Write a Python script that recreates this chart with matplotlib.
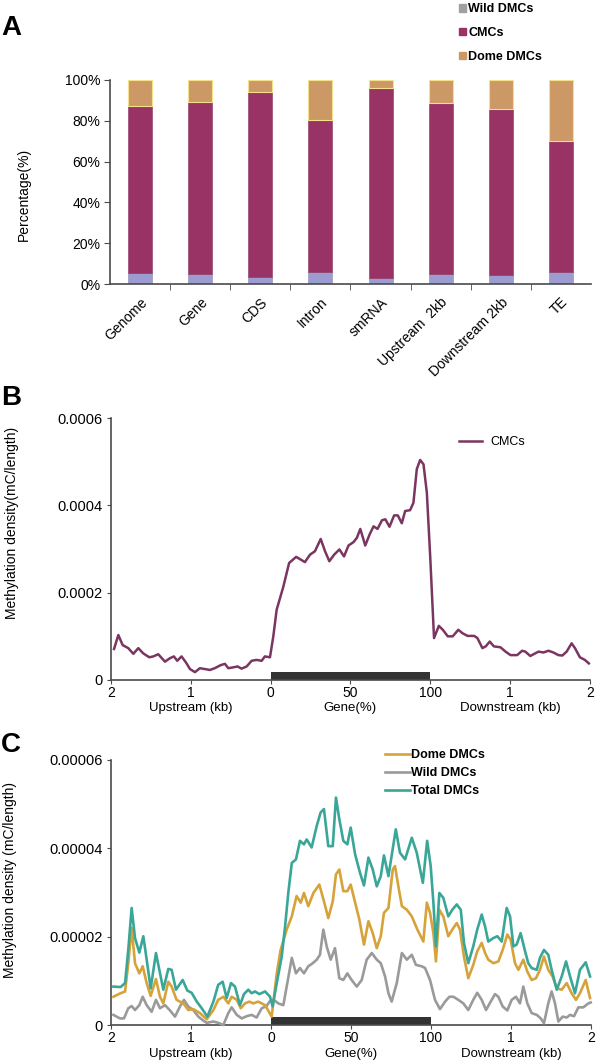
import matplotlib
matplotlib.use("Agg")
import matplotlib.pyplot as plt
from matplotlib.patches import Patch
import matplotlib.transforms as mtransforms

plt.rcParams['font.family'] = ['Liberation Sans', 'DejaVu Sans']

# ---------------- panel A data (percent) ----------------
regions = ['Genome', 'Gene', 'CDS', 'Intron', 'smRNA', 'Upstream  2kb', 'Downstream 2kb', 'TE']
wild_pct = [5.3, 4.8, 3.6, 6.0, 2.8, 4.9, 4.6, 6.0]
cmc_pct = [82.1, 84.2, 90.4, 74.2, 93.2, 83.8, 81.1, 64.3]
dome_pct = [12.6, 11.0, 6.0, 19.8, 4.0, 11.3, 14.3, 29.7]

# ---------------- panel B data (x: 0-100 upstream, 100-200 gene, 200-300 downstream) ----------------
cmc_x = [1.9, 4.6, 7.3, 10.8, 14, 17.1, 20.2, 24, 26.5, 29.6, 33.8, 37, 39.4, 41.5, 44.2, 47, 49.5, 52.6, 55.7, 58.9,
         62, 65, 68.7, 71.4, 73.5, 76.6, 79.3, 81.8, 85, 88.1, 91.2, 94.4, 96.4, 99.6, 101.7, 103.8, 108, 111.6, 116, 118.8,
         121.5, 124.7, 127.8, 131.4, 134.1, 136.8, 139.8, 143.1, 146, 148.8, 152, 154.1, 156.2, 159.3, 162, 164.5, 167, 169.8, 171.9, 174.5,
         177.4, 179.7, 182.2, 184.3, 187.4, 189.5, 191.6, 193.7, 195.8, 197.9, 200, 202.4, 205.4, 207.9, 211, 214.1, 217.6, 220.3, 223.4, 227.5,
         229.6, 232.7, 234.8, 237.3, 239.9, 244, 247.2, 250.3, 254.5, 257.6, 259.6, 262.7, 265.8, 267.9, 271, 274.1, 277.2, 280.3, 282.8, 285.5,
         288.6, 290.7, 293.8, 296.9, 299.4]
cmc_y = [0.71, 1.03, 0.80, 0.73, 0.60, 0.73, 0.61, 0.52, 0.54, 0.59, 0.42, 0.50, 0.54, 0.44, 0.54, 0.40, 0.25, 0.18, 0.27, 0.25,
         0.23, 0.27, 0.34, 0.37, 0.27, 0.29, 0.31, 0.26, 0.31, 0.44, 0.46, 0.44, 0.54, 0.52, 1.00, 1.61, 2.14, 2.68, 2.82, 2.76,
         2.70, 2.87, 2.95, 3.23, 2.95, 2.72, 2.87, 2.99, 2.83, 3.08, 3.16, 3.26, 3.46, 3.08, 3.33, 3.52, 3.46, 3.66, 3.68, 3.51,
         3.77, 3.77, 3.59, 3.87, 3.89, 4.06, 4.83, 5.04, 4.94, 4.29, 2.83, 0.96, 1.24, 1.15, 1.00, 1.00, 1.15, 1.07, 1.01, 1.01,
         0.96, 0.73, 0.77, 0.88, 0.77, 0.75, 0.65, 0.57, 0.57, 0.67, 0.65, 0.55, 0.61, 0.65, 0.63, 0.67, 0.63, 0.57, 0.56, 0.65,
         0.84, 0.73, 0.52, 0.46, 0.38]  # x 1e-4

# ---------------- panel C data (x 1e-5) ----------------
total_x = [1.5, 6, 8.8, 10.8, 12.9, 15, 17.7, 20.2, 22.3, 24.8, 28.1, 30.2, 32.7, 35.8, 37.9, 40.6, 44.8, 47.7, 50.4, 53.6,
           56.7, 60.2, 64, 67, 69.8, 72.3, 75, 77.5, 80.6, 83.1, 85.8, 87.9, 90, 92.7, 96.3, 99.4, 101, 103.6, 106.7, 108.8,
           110.8, 113, 115.6, 118.1, 120.6, 122.3, 125.4, 128.6, 131, 133.1, 135.8, 138.6, 140.6, 142.7, 145.2, 147.7, 149.8, 152.6, 155.6, 158.1,
           160.9, 163.6, 166.1, 168.6, 170.6, 173.4, 175.4, 178, 180.6, 183.8, 188, 191.1, 194.9, 197.6, 199.8, 201.5, 203.1, 205.2, 207.7, 210.8,
           213.3, 216.1, 218.6, 220.6, 223.3, 226.4, 228.9, 231.7, 233.8, 235.8, 239, 241.5, 244.2, 247.3, 249.4, 251.5, 253.5, 256, 258.8, 260.8,
           262.9, 266.1, 268.1, 270.6, 273.3, 275.4, 278.6, 281.7, 284.4, 286.9, 290, 293.1, 296.7, 299.4]
total_y = [0.87, 0.86, 0.95, 1.70, 2.65, 1.97, 1.64, 2.01, 1.48, 0.83, 1.63, 1.25, 0.80, 1.27, 1.25, 0.80, 1.02, 0.78, 0.73, 0.53,
           0.38, 0.19, 0.53, 0.91, 0.98, 0.61, 0.95, 0.87, 0.45, 0.70, 0.80, 0.72, 0.76, 0.70, 0.76, 0.64, 0.42, 0.95, 1.55, 2.23,
           2.99, 3.67, 3.75, 4.17, 4.09, 4.20, 4.02, 4.51, 4.81, 4.89, 4.05, 4.05, 5.15, 4.66, 4.17, 4.09, 4.47, 3.86, 3.45, 3.16,
           3.79, 3.52, 3.14, 3.37, 3.84, 3.37, 3.83, 4.43, 3.90, 3.75, 4.24, 3.90, 3.22, 4.17, 3.60, 2.77, 1.78, 2.99, 2.88, 2.46,
           2.61, 2.73, 2.61, 1.86, 1.40, 1.78, 2.16, 2.50, 2.23, 1.89, 1.97, 2.01, 1.89, 2.65, 2.46, 1.78, 1.82, 2.08, 1.67, 1.40,
           1.29, 1.25, 1.52, 1.70, 1.59, 1.25, 0.80, 1.10, 1.44, 1.10, 0.72, 1.25, 1.42, 1.10]

dome_x = [1.5, 6, 8.8, 10.8, 12.9, 15, 17.7, 19.8, 22.3, 24.8, 28.1, 30.6, 32.7, 35.8, 37.9, 41, 45.2, 48.3, 51.4, 55.6,
          59.8, 64, 67, 70.2, 73.3, 75.4, 78.6, 81.1, 83.8, 86.4, 88.9, 92, 96.3, 100.4, 103.6, 106, 109.8, 113, 116, 118.6,
          120.6, 123.3, 126.5, 130.2, 133.1, 135.8, 138.6, 140.6, 142.7, 145.2, 147.7, 149.8, 152.6, 155.2, 158.1, 160.9, 163.6, 166.1, 168.6, 170.6,
          173.4, 176.1, 177.5, 179.6, 181.8, 184.9, 188, 191.5, 195.2, 197.4, 199.4, 201.5, 203.1, 205.2, 207.7, 210.8, 213.3, 216.1, 218.1, 220.6,
          223.3, 226.4, 228.9, 231.7, 233.8, 235.8, 239, 242.1, 244.8, 247.7, 249.8, 252.5, 254.6, 257.7, 260.2, 262.9, 265.6, 268.1, 270.6, 273.3,
          276, 278.6, 281.7, 284.8, 287.9, 290.6, 293.1, 296.7, 299.4]
dome_y = [0.64, 0.72, 0.76, 1.40, 2.20, 1.40, 1.17, 1.33, 0.95, 0.66, 1.04, 0.64, 0.49, 0.98, 0.87, 0.57, 0.49, 0.34, 0.36, 0.27,
          0.13, 0.34, 0.57, 0.64, 0.49, 0.64, 0.57, 0.38, 0.49, 0.53, 0.49, 0.53, 0.45, 0.19, 1.17, 1.70, 2.16, 2.46, 2.92, 2.77,
          2.99, 2.69, 2.99, 3.18, 2.80, 2.42, 2.80, 3.41, 3.52, 3.03, 3.03, 3.18, 2.77, 2.39, 1.82, 2.35, 2.08, 1.74, 2.01, 2.54,
          2.65, 3.52, 3.60, 3.14, 2.69, 2.61, 2.46, 2.16, 1.89, 2.77, 2.54, 2.08, 1.44, 2.61, 2.46, 2.01, 2.16, 2.31, 2.16, 1.55,
          1.06, 1.36, 1.67, 1.86, 1.63, 1.48, 1.40, 1.44, 1.70, 2.05, 1.93, 1.40, 1.25, 1.48, 1.21, 1.02, 1.06, 1.25, 1.55, 1.25,
          1.10, 0.83, 0.80, 0.95, 0.72, 0.57, 0.72, 1.02, 0.61]

wild_x = [1.5, 5.6, 8.1, 10.8, 12.9, 15, 17.7, 19.8, 22.3, 25.4, 28.1, 30.6, 33.8, 36.9, 40, 43.1, 45.6, 48.3, 51.4, 54.6,
          57.7, 59.8, 64, 67, 70.2, 73.3, 75.4, 78.6, 81.7, 84.8, 87.9, 91, 94.2, 97.3, 99, 101.7, 104.6, 107.7, 110.2, 113,
          115.6, 118.1, 120.6, 123.3, 126.1, 128.6, 130.6, 132.7, 134.8, 137.3, 140, 142.7, 145.2, 147.7, 150.4, 153.6, 156.7, 159.8, 163, 166.1,
          168.6, 171.3, 173.4, 175.4, 178.6, 181.8, 184.9, 188, 190.6, 194.2, 196.3, 199.4, 202.5, 205.6, 208.8, 211.5, 214, 217.1, 220.2, 223.3,
          226.4, 228.9, 231.7, 234.4, 237.3, 240, 242.1, 244.8, 247.7, 250.4, 253.1, 255.6, 257.7, 260.2, 262.9, 266.1, 268.6, 270.6, 273.3, 275.4,
          277.5, 279.6, 282.3, 284.8, 286.9, 289.4, 292.1, 295.2, 298.3, 299.8]
wild_y = [0.23, 0.15, 0.15, 0.38, 0.43, 0.34, 0.45, 0.64, 0.45, 0.30, 0.57, 0.38, 0.45, 0.33, 0.19, 0.42, 0.57, 0.42, 0.34, 0.19,
          0.10, 0.05, 0.08, 0.05, 0.0, 0.27, 0.40, 0.23, 0.15, 0.20, 0.23, 0.17, 0.38, 0.43, 0.53, 0.57, 0.49, 0.45, 0.95, 1.52,
          1.17, 1.29, 1.17, 1.33, 1.40, 1.48, 1.59, 2.16, 1.78, 1.48, 1.74, 1.06, 1.02, 1.17, 1.02, 0.87, 1.02, 1.48, 1.63, 1.48,
          1.40, 1.10, 0.72, 0.53, 0.95, 1.63, 1.48, 1.59, 1.36, 1.33, 1.29, 1.02, 0.57, 0.36, 0.53, 0.64, 0.64, 0.57, 0.49, 0.34,
          0.57, 0.73, 0.57, 0.34, 0.53, 0.70, 0.64, 0.42, 0.33, 0.57, 0.64, 0.49, 0.87, 0.49, 0.27, 0.23, 0.15, 0.04, 0.49, 0.76,
          0.49, 0.08, 0.19, 0.17, 0.23, 0.20, 0.40, 0.40, 0.49, 0.51]

profile_ticks = [0, 50, 100, 150, 200, 250, 300]
profile_ticklabels = ['2', '1', '0', '50', '100', '1', '2']
section_labels = ['Upstream (kb)', 'Gene(%)', 'Downstream (kb)']
section_centers = [50, 150, 250]
gene_start, gene_end = 100, 200

spine_col = '#4a4a4a'

fig = plt.figure(figsize=(6, 10.61), dpi=100)

# ================= A =================
axA = fig.add_axes([0.1833, 0.7323, 0.8017, 0.1923])
xs = list(range(len(regions)))
bot2 = wild_pct
bot3 = [w + c for w, c in zip(wild_pct, cmc_pct)]
axA.bar(xs, wild_pct, width=0.4, color='#9c9cd0', edgecolor='#8a8aa8', linewidth=0.4)
axA.bar(xs, cmc_pct, width=0.4, bottom=bot2, color='#993366', edgecolor='#8a3060', linewidth=0.4)
axA.bar(xs, dome_pct, width=0.4, bottom=bot3, color='#cc9966', edgecolor='#f2e08a', linewidth=0.8)
axA.set_xlim(-0.5, 7.5)
axA.set_ylim(0, 100)
axA.set_yticks([0, 20, 40, 60, 80, 100])
axA.set_yticklabels(['0%', '20%', '40%', '60%', '80%', '100%'], fontsize=10)
axA.set_xticks(xs)
axA.set_xticklabels(regions, rotation=45, ha='right', va='top', rotation_mode='anchor', fontsize=10)
axA.set_xticks([i + 0.5 for i in range(len(regions) - 1)], minor=True)
axA.tick_params(axis='x', which='major', length=0, pad=8)
axA.tick_params(axis='x', which='minor', length=4, color=spine_col)
axA.tick_params(axis='y', length=4, color=spine_col, pad=3)
for s in ['top', 'right']:
    axA.spines[s].set_visible(False)
for s in ['left', 'bottom']:
    axA.spines[s].set_color(spine_col)
    axA.spines[s].set_linewidth(1.2)
axA.set_ylabel('Percentage(%)', fontsize=10)
axA.yaxis.set_label_coords(-0.164, 0.44)
handlesA = [Patch(color='#a0a0a0', label='Wild DMCs'),
            Patch(color='#993366', label='CMCs'),
            Patch(color='#cc9966', label='Dome DMCs')]
axA.legend(handles=handlesA, loc='upper left', bbox_to_anchor=(0.765, 0.997), bbox_transform=fig.transFigure,
           frameon=False, prop={'weight': 'bold', 'size': 9}, handlelength=0.55, handleheight=0.55,
           handletextpad=0.2, labelspacing=0.95, borderpad=0, borderaxespad=0)


def profile_axes(ax, ylabel, label_coords, sub_offset):
    ax.set_xlim(0, 300)
    ax.set_xticks(profile_ticks)
    ax.set_xticklabels(profile_ticklabels, fontsize=10)
    ax.tick_params(axis='x', length=3, color=spine_col, pad=1)
    ax.tick_params(axis='y', length=3, color=spine_col, pad=3, labelsize=10.5)
    for s in ['top', 'right']:
        ax.spines[s].set_visible(False)
    for s in ['left', 'bottom']:
        ax.spines[s].set_color(spine_col)
        ax.spines[s].set_linewidth(1.2)
    trans = mtransforms.blended_transform_factory(ax.transData, ax.transAxes)
    for cx, lab in zip(section_centers, section_labels):
        ax.text(cx, sub_offset, lab, transform=trans, ha='center', va='center', fontsize=9.5)
    ax.broken_barh([(gene_start, gene_end - gene_start)], (0, 0.03), transform=trans,
                   facecolors='#333333', clip_on=False, zorder=1)
    ax.set_ylabel(ylabel, fontsize=10)
    ax.yaxis.set_label_coords(*label_coords)


# ================= B =================
axB = fig.add_axes([0.185, 0.3591, 0.798, 0.2469])
axB.plot(cmc_x, [v * 1e-4 for v in cmc_y], color='#7a3560', lw=1.8, label='CMCs', clip_on=False, zorder=3)
axB.set_ylim(0, 0.0006)
axB.set_yticks([0, 0.0002, 0.0004, 0.0006])
axB.set_yticklabels(['0', '0.0002', '0.0004', '0.0006'])
profile_axes(axB, 'Methylation density(mC/length)', (-0.192, 0.60), -0.108)
axB.legend(loc='upper left', bbox_to_anchor=(0.765, 1 - 436 / 1061), bbox_transform=fig.transFigure,
           frameon=False, fontsize=9, handlelength=1.8, handletextpad=0.7, borderpad=0, borderaxespad=0)

# ================= C =================
axC = fig.add_axes([0.185, 0.0339, 0.80, 0.2498])
axC.plot(wild_x, [v * 1e-5 for v in wild_y], color='#9a9a9a', lw=1.9, label='Wild DMCs', clip_on=False, zorder=3)
axC.plot(dome_x, [v * 1e-5 for v in dome_y], color='#d6a33a', lw=1.9, label='Dome DMCs', clip_on=False, zorder=4)
axC.plot(total_x, [v * 1e-5 for v in total_y], color='#3aa698', lw=1.9, label='Total DMCs', clip_on=False, zorder=5)
axC.set_ylim(0, 0.00006)
axC.set_yticks([0, 0.00002, 0.00004, 0.00006])
axC.set_yticklabels(['0', '0.00002', '0.00004', '0.00006'])
profile_axes(axC, 'Methylation density (mC/length)', (-0.196, 0.547), -0.108)
hC, lC = axC.get_legend_handles_labels()
orderC = [1, 0, 2]
axC.legend([hC[i] for i in orderC], [lC[i] for i in orderC], loc='upper left',
           bbox_to_anchor=(0.641, 1 - 749 / 1061), bbox_transform=fig.transFigure,
           frameon=False, prop={'weight': 'bold', 'size': 9}, handlelength=2.0, handletextpad=0.1,
           labelspacing=0.5, borderpad=0, borderaxespad=0)

# panel letters
for letter, ybase in [('A', 35), ('B', 405), ('C', 752)]:
    fig.text(0.002, 1 - ybase / 1061, letter, fontsize=20, fontweight='bold', va='baseline', ha='left')

fig.savefig('out.png', dpi=100)
